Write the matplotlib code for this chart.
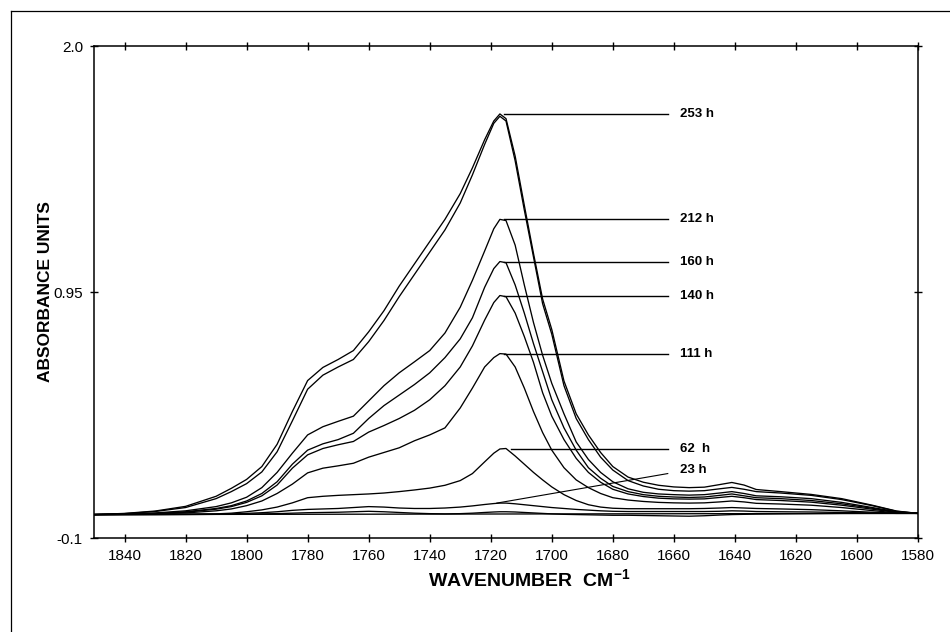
import numpy as np
import matplotlib.pyplot as plt
from matplotlib.lines import Line2D

plt.rcParams['font.family'] = ['Liberation Sans', 'DejaVu Sans']
plt.rcParams['mathtext.default'] = 'regular'

# wavenumber grid (cm-1) that all spectra were read on
wavenumber = [1850, 1840, 1830, 1820, 1810, 1805, 1800, 1795, 1790, 1785,
              1780, 1775, 1770, 1765, 1760, 1755, 1750, 1745, 1740, 1735,
              1730, 1726, 1722, 1719, 1717, 1715, 1712, 1709, 1706, 1703,
              1700, 1696, 1692, 1688, 1684, 1680, 1675, 1670, 1665, 1660,
              1655, 1650, 1645, 1641, 1637, 1633, 1625, 1615, 1605, 1595,
              1587, 1580]

abs_253h = [0.000, 0.005, 0.015, 0.035, 0.078, 0.112, 0.150, 0.205, 0.300, 0.440,
            0.572, 0.628, 0.662, 0.700, 0.780, 0.870, 0.975, 1.070, 1.165, 1.260,
            1.370, 1.480, 1.600, 1.680, 1.710, 1.690, 1.530, 1.320, 1.115, 0.920,
            0.790, 0.570, 0.430, 0.340, 0.265, 0.205, 0.160, 0.138, 0.125, 0.118,
            0.115, 0.117, 0.128, 0.137, 0.126, 0.107, 0.098, 0.086, 0.068, 0.040,
            0.015, 0.005]
# unlabelled spectrum lying just under 253 h
abs_top2 = [0.000, 0.004, 0.013, 0.030, 0.068, 0.098, 0.132, 0.182, 0.268, 0.400,
            0.535, 0.595, 0.630, 0.662, 0.738, 0.828, 0.930, 1.025, 1.120, 1.215,
            1.330, 1.450, 1.580, 1.670, 1.700, 1.680, 1.510, 1.300, 1.100, 0.900,
            0.770, 0.550, 0.410, 0.320, 0.245, 0.190, 0.145, 0.122, 0.108, 0.102,
            0.100, 0.102, 0.110, 0.116, 0.108, 0.098, 0.092, 0.082, 0.064, 0.038,
            0.014, 0.005]
abs_212h = [0.000, 0.002, 0.007, 0.016, 0.034, 0.050, 0.074, 0.115, 0.180, 0.262,
            0.340, 0.375, 0.398, 0.420, 0.485, 0.550, 0.605, 0.652, 0.700, 0.775,
            0.885, 1.000, 1.125, 1.220, 1.260, 1.255, 1.150, 0.980, 0.820, 0.680,
            0.560, 0.430, 0.310, 0.235, 0.180, 0.140, 0.110, 0.095, 0.088, 0.085,
            0.083, 0.085, 0.092, 0.098, 0.090, 0.080, 0.076, 0.068, 0.052, 0.030,
            0.012, 0.005]
abs_160h = [0.000, 0.001, 0.005, 0.012, 0.026, 0.038, 0.058, 0.090, 0.140, 0.215,
            0.275, 0.302, 0.320, 0.347, 0.410, 0.465, 0.510, 0.555, 0.605, 0.670,
            0.750, 0.840, 0.970, 1.050, 1.080, 1.075, 0.980, 0.860, 0.730, 0.610,
            0.490, 0.370, 0.275, 0.200, 0.155, 0.120, 0.098, 0.085, 0.078, 0.075,
            0.073, 0.075, 0.082, 0.088, 0.080, 0.072, 0.068, 0.060, 0.046, 0.027,
            0.010, 0.005]
abs_140h = [0.000, 0.001, 0.004, 0.010, 0.023, 0.034, 0.052, 0.080, 0.126, 0.198,
            0.255, 0.282, 0.298, 0.312, 0.352, 0.380, 0.410, 0.445, 0.490, 0.550,
            0.630, 0.720, 0.830, 0.905, 0.935, 0.930, 0.860, 0.760, 0.650, 0.520,
            0.420, 0.320, 0.240, 0.180, 0.138, 0.108, 0.088, 0.077, 0.070, 0.067,
            0.066, 0.067, 0.073, 0.078, 0.072, 0.064, 0.060, 0.053, 0.040, 0.023,
            0.009, 0.005]
abs_111h = [0.000, 0.001, 0.003, 0.007, 0.016, 0.024, 0.038, 0.058, 0.090, 0.130,
            0.178, 0.198, 0.208, 0.219, 0.245, 0.265, 0.285, 0.315, 0.340, 0.370,
            0.455, 0.540, 0.630, 0.670, 0.687, 0.685, 0.630, 0.540, 0.440, 0.350,
            0.275, 0.200, 0.148, 0.115, 0.090, 0.072, 0.062, 0.056, 0.052, 0.050,
            0.049, 0.050, 0.054, 0.058, 0.054, 0.048, 0.045, 0.040, 0.030, 0.017,
            0.007, 0.005]
abs_62h = [0.000, 0.000, 0.001, 0.002, 0.003, 0.006, 0.012, 0.020, 0.032, 0.050,
           0.072, 0.078, 0.082, 0.085, 0.088, 0.092, 0.098, 0.105, 0.113, 0.125,
           0.145, 0.175, 0.225, 0.262, 0.280, 0.282, 0.250, 0.215, 0.180, 0.148,
           0.118, 0.085, 0.060, 0.042, 0.032, 0.027, 0.025, 0.025, 0.025, 0.025,
           0.025, 0.026, 0.028, 0.030, 0.028, 0.026, 0.024, 0.021, 0.016, 0.010,
           0.006, 0.005]
abs_23h = [0.000, 0.000, 0.000, 0.001, 0.002, 0.003, 0.005, 0.008, 0.012, 0.018,
           0.022, 0.024, 0.026, 0.030, 0.034, 0.032, 0.028, 0.026, 0.026, 0.028,
           0.032, 0.037, 0.043, 0.047, 0.049, 0.049, 0.046, 0.042, 0.038, 0.034,
           0.030, 0.026, 0.022, 0.019, 0.016, 0.014, 0.013, 0.013, 0.013, 0.013,
           0.013, 0.013, 0.014, 0.016, 0.015, 0.013, 0.012, 0.011, 0.009, 0.007,
           0.005, 0.005]
# unlabelled near-baseline spectrum
abs_low = [0.000, 0.000, 0.000, 0.000, 0.001, 0.001, 0.002, 0.003, 0.004, 0.006,
           0.008, 0.009, 0.010, 0.012, 0.014, 0.012, 0.009, 0.006, 0.004, 0.003,
           0.004, 0.006, 0.009, 0.011, 0.012, 0.012, 0.011, 0.009, 0.007, 0.005,
           0.003, 0.001, 0.000, -0.001, -0.002, -0.003, -0.003, -0.004, -0.005, -0.006,
           -0.007, -0.005, -0.002, 0.000, 0.001, 0.002, 0.003, 0.004, 0.005, 0.005,
           0.005, 0.005]
ref_wavenumber = [1850, 1580]
ref_abs = [0.000, 0.005]

labelled = [abs_253h, abs_212h, abs_160h, abs_140h, abs_111h, abs_62h, abs_23h]
label_text = ['253 h', '212 h', '160 h', '140 h', '111 h', '62  h', '23 h']
unlabelled = [abs_top2, abs_low]

x_ticks = [1840, 1820, 1800, 1780, 1760, 1740, 1720, 1700, 1680, 1660, 1640, 1620, 1600, 1580]
y_ticks = [-0.1, 0.95, 2.0]
y_ticklabels = ['-0.1', '0.95', '2.0']

fig = plt.figure(figsize=(9.5, 6.32), dpi=100)
ax = fig.add_axes([94/950, 1 - 538/632, 824/950, 492/632])

w = np.array(wavenumber)
for s in labelled + unlabelled:
    ax.plot(w, s, color='black', lw=0.95)
ax.plot(ref_wavenumber, ref_abs, color='black', lw=0.95)

# peak labels with leader lines
label_x = 1658
line_end = 1662
for s, txt in zip(labelled, label_text):
    s = np.array(s)
    i = int(np.argmax(s))
    if txt == '23 h':
        ax.plot([w[i] + 1, line_end], [s[i], 0.175], color='black', lw=0.8)
        ax.text(label_x, 0.19, txt, fontsize=9.5, fontweight='bold', va='center', ha='left')
    else:
        ax.plot([w[i] - 1.5, line_end], [s[i], s[i]], color='black', lw=1.0)
        ax.text(label_x, s[i], txt, fontsize=9.5, fontweight='bold', va='center', ha='left')

ax.set_xlim(1850, 1580)
ax.set_ylim(-0.1, 2.0)
ax.set_xticks(x_ticks)
ax.set_yticks(y_ticks)
ax.set_yticklabels(y_ticklabels)
ax.tick_params(direction='inout', length=6, width=1, top=True, right=True,
               labelsize=11, pad=5)
for sp in ax.spines.values():
    sp.set_linewidth(1.1)

fig.text(529/950, 1 - 579/632, 'WAVENUMBER  CM$^{-1}$', fontsize=14,
         fontweight='bold', ha='center', va='center')
fig.text(46/950, 1 - 292/632, 'ABSORBANCE UNITS', fontsize=12.5,
         fontweight='bold', ha='center', va='center', rotation=90)

# outer page frame (top and left edges)
fig.add_artist(Line2D([11/950, 11/950], [0, 1 - 11/632], color='black', lw=0.9))
fig.add_artist(Line2D([11/950, 1], [1 - 11/632, 1 - 11/632], color='black', lw=0.9))

fig.savefig('out.png', dpi=100)
